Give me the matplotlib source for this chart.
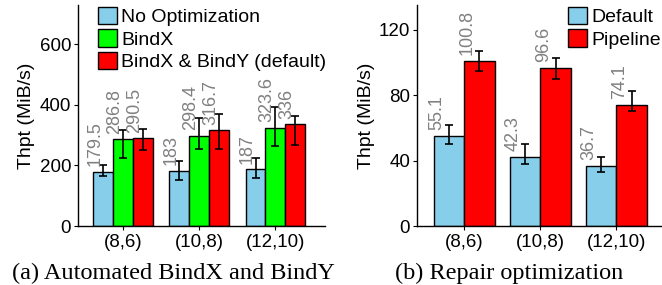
import numpy as np
import matplotlib.pyplot as plt
from matplotlib.patches import Patch

plt.rcParams['font.family'] = ['Liberation Sans', 'DejaVu Sans']

configs = ['(8,6)', '(10,8)', '(12,10)']

# (a) Automated BindX and BindY
bind_series = ['No Optimization', 'BindX', 'BindX & BindY (default)']
bind_colors = ['#87CEEB', '#00FF00', '#FF0000']
bind_vals = [[179.5, 183, 187],
             [286.8, 298.4, 323.6],
             [290.5, 316.7, 336]]
bind_lo = [[166, 152, 157],
           [223, 253, 264],
           [250, 254, 267]]
bind_hi = [[201, 215, 225],
           [316, 358, 393],
           [322, 369, 362]]
bind_labels = [['179.5', '183', '187'],
               ['286.8', '298.4', '323.6'],
               ['290.5', '316.7', '336']]

# (b) Repair optimization
rep_series = ['Default', 'Pipeline']
rep_colors = ['#87CEEB', '#FF0000']
rep_vals = [[55.1, 42.3, 36.7],
            [100.8, 96.6, 74.1]]
rep_lo = [[49.9, 37.7, 32.7],
          [94.6, 89.5, 70.0]]
rep_hi = [[61.9, 50.1, 42.2],
          [107.2, 102.7, 82.4]]
rep_labels = [['55.1', '42.3', '36.7'],
              ['100.8', '96.6', '74.1']]


def draw_panel(ax, series, colors, vals, lo, hi, labels, width, ylim, yticks, dx):
    x = np.arange(len(configs))
    n = len(series)
    for i in range(n):
        pos = x + (i - (n - 1) / 2) * width
        v = np.array(vals[i])
        err = [v - np.array(lo[i]), np.array(hi[i]) - v]
        ax.bar(pos, v, width, color=colors[i], edgecolor='black', linewidth=1.0, zorder=2)
        ax.errorbar(pos, v, yerr=err, fmt='none', ecolor='black', elinewidth=1.2,
                    capsize=2.8, capthick=1.2, zorder=3)
        for p, val, lab in zip(pos, v, labels[i]):
            ax.annotate(lab, (p, val), xytext=(dx, 4), textcoords='offset points',
                        rotation=90, ha='center', va='bottom', color='#808080',
                        fontsize=13)
    ax.set_xticks(x)
    ax.set_xticklabels(configs, fontsize=13.5)
    ax.set_yticks(yticks)
    ax.tick_params(axis='y', labelsize=13.5, length=3, width=0.8, pad=2)
    ax.tick_params(axis='x', length=3, width=0.8, pad=3)
    ax.set_ylim(*ylim)
    ax.set_ylabel('Thpt (MiB/s)', fontsize=14, labelpad=3)
    for s in ['top', 'right']:
        ax.spines[s].set_visible(False)
    for s in ['left', 'bottom']:
        ax.spines[s].set_linewidth(1.0)
    handles = [Patch(facecolor=c, edgecolor='black', linewidth=1.0, label=s)
               for s, c in zip(series, colors)]
    return handles


fig = plt.figure(figsize=(6.62, 2.85), dpi=100)
ax1 = fig.add_axes([0.1178, 0.207, 0.373, 0.7754])
ax2 = fig.add_axes([0.630, 0.207, 0.370, 0.7754])

leg_kw = dict(loc='upper left', frameon=False, fontsize=14, handlelength=1.0,
              handleheight=1.0, handletextpad=0.2, labelspacing=0.15,
              borderpad=0.1, borderaxespad=0)

h1 = draw_panel(ax1, bind_series, bind_colors, bind_vals, bind_lo, bind_hi, bind_labels,
                0.26, (0, 730), [0, 200, 400, 600], -6)
ax1.set_xlim(-0.59, 2.65)
ax1.legend(handles=h1, bbox_to_anchor=(0.072, 1.0), **leg_kw)

h2 = draw_panel(ax2, rep_series, rep_colors, rep_vals, rep_lo, rep_hi, rep_labels,
                0.40, (0, 135), [0, 40, 80, 120], -8.6)
ax2.set_xlim(-0.62, 2.6)
ax2.legend(handles=h2, bbox_to_anchor=(0.608, 1.0), **leg_kw)

fig.text(173 / 662, 0.021, '(a) Automated BindX and BindY', ha='center', va='baseline',
         fontsize=17.5, family='Liberation Serif')
fig.text(509 / 662, 0.021, '(b) Repair optimization', ha='center', va='baseline',
         fontsize=17.5, family='Liberation Serif')

fig.savefig('out.png', dpi=100)
